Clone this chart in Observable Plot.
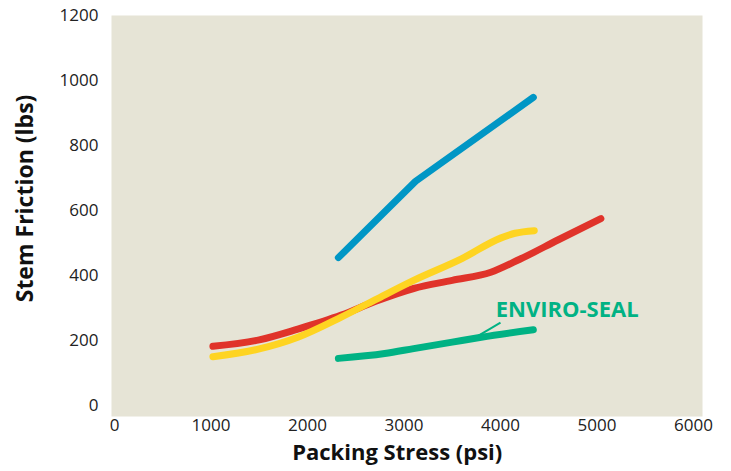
<!DOCTYPE html>
<html>
<head>
<meta charset="utf-8">
<script src="https://cdn.jsdelivr.net/npm/d3@7"></script>
<script src="https://cdn.jsdelivr.net/npm/@observablehq/plot@0.6"></script>
<style>
  html, body { margin: 0; padding: 0; background: #ffffff; }
  #chart svg { display: block; }
</style>
</head>
<body>
<div id="chart"></div>
<script>
// Packing stress (psi) vs stem friction (lbs)
const blueX = [2320, 3120, 4340];
const blueY = [455, 690, 948];

const redX = [1020, 1500, 1900, 2350, 2700, 3100, 3500, 3900, 4200, 4600, 5040];
const redY = [182, 202, 235, 278, 320, 360, 385, 410, 450, 510, 575];

const yellowX = [1020, 1500, 1900, 2350, 2700, 3100, 3600, 4000, 4150, 4350];
const yellowY = [150, 174, 210, 272, 325, 385, 452, 515, 530, 538];

const greenX = [2320, 2800, 3100, 3500, 3800, 4340];
const greenY = [145, 160, 175, 195, 210, 233];

const xTicks = [0, 1000, 2000, 3000, 4000, 5000, 6000];
const yTicks = [0, 200, 400, 600, 800, 1000, 1200];

const seriesLabel = "ENVIRO-SEAL";
const labelPos = {x: 3950, y: 295};
const leader = {x1: 4000, y1: 255, x2: 3772, y2: 215};

const xTitle = "Packing Stress (psi)";
const yTitle = "Stem Friction (lbs)";
const xTitlePos = {x: 2930, y: -146};
const yTitlePos = {x: -920, y: 637};

const toRows = (xs, ys) => xs.map((x, i) => ({x, y: ys[i]}));
const blue = toRows(blueX, blueY);
const red = toRows(redX, redY);
const yellow = toRows(yellowX, yellowY);
const green = toRows(greenX, greenY);

const font = "'Open Sans', sans-serif";
const lineOpts = {x: "x", y: "y", strokeWidth: 7, strokeLinecap: "round", strokeLinejoin: "round"};

const chart = Plot.plot({
  width: 731,
  height: 471,
  marginLeft: 114,
  marginRight: 38,
  marginTop: 15,
  marginBottom: 66,
  style: {fontFamily: font, background: "#ffffff"},
  x: {domain: [0, 6000], ticks: xTicks, tickSize: 0, tickPadding: 13, label: null, tickFormat: d => String(d)},
  y: {domain: [0, 1200], ticks: yTicks, tickSize: 0, tickPadding: 16, label: null, tickFormat: d => String(d)},
  marks: [
    Plot.frame({fill: "#e6e4d6", stroke: null, insetLeft: -3, insetRight: -9, insetBottom: -11}),
    Plot.axisX({ticks: xTicks, tickSize: 0, tickPadding: 13, fontSize: 17, fill: "#222", tickFormat: d => String(d), label: null}),
    Plot.axisY({ticks: yTicks, tickSize: 0, tickPadding: 16, fontSize: 17, fill: "#222", tickFormat: d => String(d), label: null}),
    Plot.line(red, {...lineOpts, stroke: "#e0332a", curve: "monotone-x"}),
    Plot.line(yellow, {...lineOpts, stroke: "#fed422", curve: "monotone-x"}),
    Plot.line(blue, {...lineOpts, stroke: "#0096c5", curve: "linear"}),
    Plot.line(green, {...lineOpts, stroke: "#00b284", curve: "monotone-x"}),
    Plot.link([leader], {x1: "x1", y1: "y1", x2: "x2", y2: "y2", stroke: "#00b284", strokeWidth: 2}),
    Plot.text([seriesLabel], {x: labelPos.x, y: labelPos.y, text: d => d, textAnchor: "start", fontSize: 22, fontWeight: "bold", fill: "#00b284", fontFamily: font}),
    Plot.text([xTitle], {x: xTitlePos.x, y: xTitlePos.y, text: d => d, fontSize: 22, fontWeight: "bold", fill: "#111", fontFamily: font, clip: false}),
    Plot.text([yTitle], {x: yTitlePos.x, y: yTitlePos.y, rotate: -90, text: d => d, fontSize: 23, fontWeight: "bold", fill: "#111", fontFamily: font, clip: false})
  ]
});
document.getElementById("chart").appendChild(chart);
</script>
</body>
</html>
